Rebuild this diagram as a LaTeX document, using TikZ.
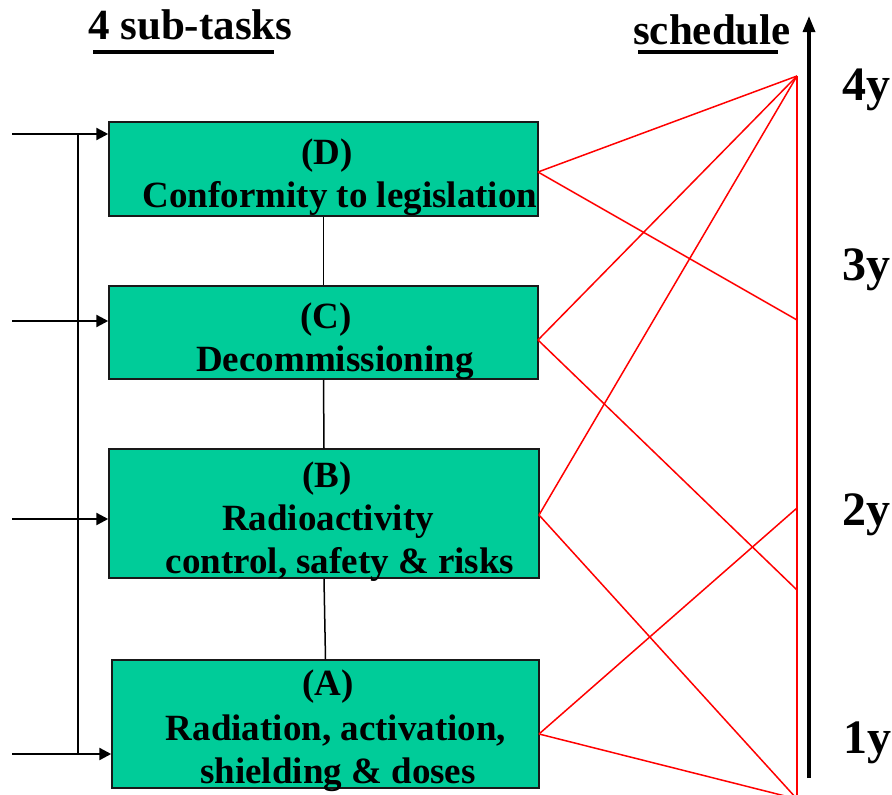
\documentclass[tikz,border=0pt]{standalone}
\usepackage{fontspec}
\setmainfont{Liberation Serif}
\usetikzlibrary{arrows.meta}
\definecolor{boxgreen}{RGB}{0,204,153}
\begin{document}
\begin{tikzpicture}[x=1pt,y=-1pt,
  taskbox/.style={draw=black!90, line width=1.5pt, fill=boxgreen, minimum width=429pt, inner sep=0pt},
  boxtext/.style={anchor=base, inner sep=0pt, font=\fontsize{37}{43}\selectfont\bfseries},
  titletext/.style={anchor=base west, inner sep=0pt, font=\fontsize{43}{50}\selectfont\bfseries},
  yearlbl/.style={anchor=base west, inner sep=0pt, font=\fontsize{48}{55}\selectfont\bfseries},
  inarrow/.style={line width=2.4pt, -{Triangle[length=12pt,width=12pt]}},
  thinline/.style={line width=1.5pt},
  redline/.style={red, line width=1.5pt},
  uline/.style={line width=4pt},
]
\useasboundingbox (0,0) rectangle (892,795);

% titles
\node[titletext] (t1) at (88,39) {4 sub-tasks};
\coordinate (u1a) at (93,52); \coordinate (u1b) at (274,52);
\draw[uline] (u1a) -- (u1b);
\node[titletext] (t2) at (633,45) {schedule};
\coordinate (u2a) at (638,52); \coordinate (u2b) at (778,52);
\draw[uline] (u2a) -- (u2b);

% boxes
\node[taskbox, minimum height=94pt] (D) at (323.5,169) {};
\node[taskbox, minimum height=93pt] (C) at (323.5,332.5) {};
\node[taskbox, minimum height=129pt, minimum width=430pt] (B) at (324,513.5) {};
\node[taskbox, minimum height=128pt, minimum width=427pt] (A) at (325.5,724) {};

% box texts
\node[boxtext] (Dl1) at (327,164) {(D)};
\node[boxtext] (Dl2) at (340,207) {Conformity to legislation};
\node[boxtext] (Cl1) at (326,328) {(C)};
\node[boxtext] (Cl2) at (335,371) {Decommissioning};
\node[boxtext] (Bl1) at (327,487) {(B)};
\node[boxtext] (Bl2) at (328,530) {Radioactivity};
\node[boxtext] (Bl3) at (340,573) {control, safety \& risks};
\node[boxtext] (Al1) at (328,695) {(A)};
\node[boxtext] (Al2) at (336,740) {Radiation, activation,};
\node[boxtext] (Al3) at (338,783) {shielding \& doses};

% vertical connectors between boxes
\draw[thinline] (D.south) -- (C.north);
\draw[thinline] (C.south) -- (B.north);
\draw[thinline] (B.south) -- (A.north);

% input arrows and bus
\coordinate (inD) at (12,134);
\coordinate (inC) at (12,321);
\coordinate (inB) at (12,519);
\coordinate (inA) at (12,754);
\coordinate (busT) at (78,134);
\coordinate (busB) at (78,754);
\draw[thinline] (busT) -- (busB);
\draw[inarrow] (inD) -- (inD -| D.west);
\draw[inarrow] (inC) -- (inC -| C.west);
\draw[inarrow] (inB) -- (inB -| B.west);
\draw[inarrow] (inA) -- (inA -| A.west);

% schedule axis
\coordinate (axB) at (809,778);
\coordinate (axT) at (809,16);
\draw[line width=3.2pt, -{Triangle[length=16pt,width=12pt]}] (axB) -- (axT);
\node[yearlbl] (y4) at (842,100) {4y};
\node[yearlbl] (y3) at (842,280) {3y};
\node[yearlbl] (y2) at (842,525) {2y};
\node[yearlbl] (y1) at (843,753) {1y};

% red schedule lines
\coordinate (P4) at (797,76);
\coordinate (P3) at (797,320);
\coordinate (P2) at (797,508);
\coordinate (P1) at (797,590);
\coordinate (P0) at (797,799);
\coordinate (Dr) at (538,172);
\coordinate (Cr) at (538,340);
\coordinate (Br) at (539,515);
\coordinate (Ar) at (539,734);
\draw[redline] (P4) -- (P0);
\draw[redline] (Dr) -- (P4);
\draw[redline] (Dr) -- (P3);
\draw[redline] (Cr) -- (P4);
\draw[redline] (Cr) -- (P1);
\draw[redline] (Br) -- (P4);
\draw[redline] (Br) -- (P0);
\draw[redline] (Ar) -- (P2);
\draw[redline] (Ar) -- (P0);
\end{tikzpicture}
\end{document}
